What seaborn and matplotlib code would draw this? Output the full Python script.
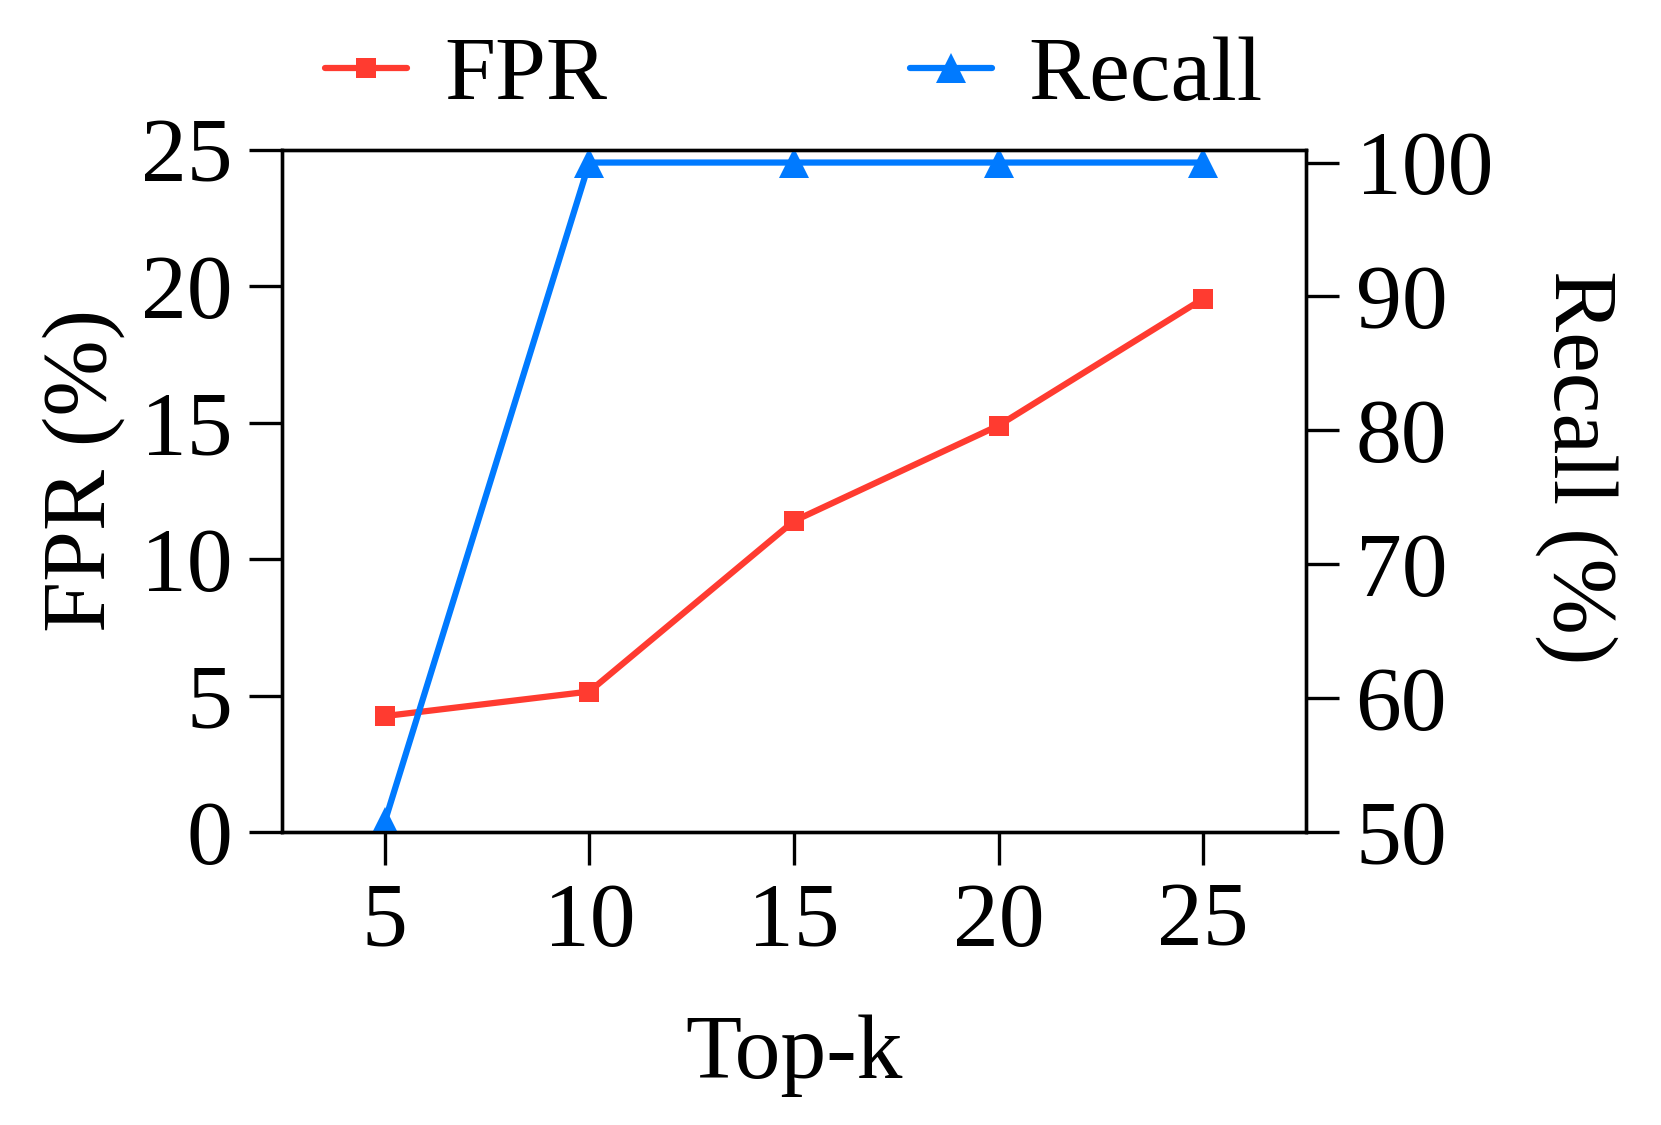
import matplotlib
matplotlib.use('Agg')
import matplotlib.pyplot as plt
import seaborn as sns

# Data
top_k = [5, 10, 15, 20, 25]
fpr = [4.25, 5.15, 11.4, 14.9, 19.55]
recall = [50.75, 100, 100, 100, 100]

red = '#FF3B30'
blue = '#007AFF'

sns.set_style('ticks')
plt.rcParams['font.family'] = ['Liberation Serif', 'DejaVu Serif']
plt.rcParams['text.color'] = 'black'
plt.rcParams['axes.labelcolor'] = 'black'

fig = plt.figure(figsize=(1661 / 300, 1125 / 300), dpi=300)
ax = fig.add_axes([0.170, 0.2604, 0.616, 0.6063])
ax2 = ax.twinx()

sns.lineplot(x=top_k, y=fpr, ax=ax, color=red, marker='s', markersize=5,
             markeredgewidth=0, linewidth=1.5, label='FPR', legend=False)
sns.lineplot(x=top_k, y=recall, ax=ax2, color=blue, marker='^', markersize=7,
             markeredgewidth=0, linewidth=1.5, label='Recall', legend=False)

ax.set_xlim(2.5, 27.5)
ax.set_ylim(0, 25)
ax2.set_ylim(50, 100.94)
ax.set_xticks(top_k)
ax.set_yticks([0, 5, 10, 15, 20, 25])
ax2.set_yticks([50, 60, 70, 80, 90, 100])

fs = 22
for a in (ax, ax2):
    for s in a.spines.values():
        s.set_linewidth(0.8)
        s.set_color('black')
    a.tick_params(direction='out', length=8, width=0.8, pad=4, labelsize=fs,
                  color='black', labelcolor='black')
ax.tick_params(top=False, right=False)

ax.set_xlabel('Top-k', fontsize=fs, labelpad=12)
ax.set_ylabel('FPR (%)', fontsize=fs)
ax2.set_ylabel('Recall (%)', fontsize=fs, rotation=270, va='bottom')
ax.yaxis.set_label_coords(-0.154, 0.53)
ax2.yaxis.set_label_coords(1.224, 0.535)

h1, l1 = ax.get_legend_handles_labels()
h2, l2 = ax2.get_legend_handles_labels()
fig.legend(h1 + h2, l1 + l2, loc='center', bbox_to_anchor=(0.478, 0.931),
           ncol=2, frameon=False, fontsize=fs, handlelength=0.9,
           handletextpad=0.4, columnspacing=3.3)

fig.savefig('out.png', dpi=300)
